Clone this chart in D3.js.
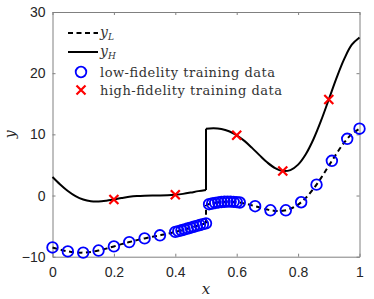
<!DOCTYPE html>
<html>
<head>
<meta charset="utf-8">
<script src="https://cdn.jsdelivr.net/npm/d3@7"></script>
<style>
  body { margin: 0; background: #fff; }
  svg { display: block; }
  .tick text { font-family: "Liberation Sans", Arial, sans-serif; font-size: 14px; fill: #262626; }
</style>
</head>
<body>
<div id="chart"></div>
<script>
// --- data ---
// high-fidelity curve y_H (jump at x = 0.5, listed twice)
const hiX = [0, 0.025, 0.05, 0.075, 0.1, 0.125, 0.15, 0.175, 0.2, 0.225, 0.25, 0.275, 0.3, 0.325, 0.35, 0.375, 0.4, 0.425, 0.45, 0.475, 0.5,
             0.5, 0.525, 0.55, 0.575, 0.6, 0.625, 0.65, 0.675, 0.7, 0.725, 0.75, 0.775, 0.8, 0.825, 0.85, 0.875, 0.9, 0.925, 0.95, 0.975, 1];
const hiY = [3.03, 1.81, 0.74, -0.10, -0.66, -0.94, -0.98, -0.85, -0.64, -0.41, -0.21, -0.08, -0.02, 0.0, 0.0, 0.03, 0.12, 0.27, 0.48, 0.72, 0.91,
             10.91, 10.99, 10.87, 10.50, 9.85, 8.93, 7.79, 6.56, 5.39, 4.48, 4.01, 4.16, 5.05, 6.75, 9.20, 12.27, 15.71, 19.19, 22.30, 24.65, 25.83];
// low-fidelity curve y_L
const loX = hiX;
const loY = [-8.49, -8.84, -9.13, -9.30, -9.33, -9.22, -8.99, -8.68, -8.32, -7.95, -7.61, -7.29, -7.01, -6.75, -6.50, -6.24, -5.94, -5.62, -5.26, -4.89, -4.55,
             -1.55, -1.26, -1.06, -1.00, -1.08, -1.29, -1.61, -1.97, -2.30, -2.51, -2.50, -2.17, -1.48, -0.38, 1.10, 2.89, 4.86, 6.84, 8.65, 10.07, 10.92];
const jumpAt = 20; // last index before the jump

// low-fidelity training data (circles)
const lfX = [0, 0.05, 0.1, 0.15, 0.2, 0.25, 0.3, 0.35,
             0.40, 0.41, 0.42, 0.43, 0.44, 0.45, 0.46, 0.47, 0.48, 0.49, 0.50,
             0.51, 0.52, 0.53, 0.54, 0.55, 0.56, 0.57, 0.58, 0.59, 0.60, 0.61,
             0.66, 0.71, 0.76, 0.81, 0.86, 0.91, 0.96, 1.0];
const lfY = [-8.49, -9.13, -9.33, -8.99, -8.32, -7.61, -7.01, -6.50,
             -5.94, -5.82, -5.68, -5.55, -5.40, -5.26, -5.11, -4.96, -4.82, -4.68, -4.55,
             -1.42, -1.31, -1.21, -1.13, -1.06, -1.02, -1.00, -1.00, -1.03, -1.08, -1.14,
             -1.75, -2.41, -2.41, -1.10, 1.78, 5.68, 9.27, 10.92];

// high-fidelity training data (crosses)
const hfX = [0.2, 0.4, 0.6, 0.75, 0.9];
const hfY = [-0.64, 0.12, 9.85, 4.01, 15.71];

const xTicks = [0, 0.2, 0.4, 0.6, 0.8, 1];
const yTicks = [-10, 0, 10, 20, 30];

// --- layout ---
const width = 374, height = 299;
const margin = { top: 12, right: 15, bottom: 42, left: 52.5 };
const innerW = 359.5 - margin.left;
const innerH = 256.7 - margin.top;

const svg = d3.select("#chart").append("svg")
    .attr("width", width).attr("height", height);
const g = svg.append("g").attr("transform", `translate(${margin.left},${margin.top})`);

const x = d3.scaleLinear().domain([0, 1]).range([0, innerW]);
const y = d3.scaleLinear().domain([-10, 30]).range([innerH, 0]);

// axes with inward ticks on all four sides
const axisColor = "#808080";
function styleAxis(sel) {
    sel.select(".domain").attr("stroke", axisColor).attr("stroke-width", 1);
    sel.selectAll(".tick line").attr("stroke", axisColor);
}
g.append("g").attr("transform", `translate(0,${innerH})`)
    .call(d3.axisBottom(x).tickValues(xTicks).tickFormat(d3.format("~g")).tickSizeInner(-3).tickSizeOuter(0).tickPadding(10))
    .call(styleAxis);
g.append("g")
    .call(d3.axisLeft(y).tickValues(yTicks).tickSizeInner(-3).tickSizeOuter(0).tickPadding(7))
    .call(styleAxis);
g.append("g")
    .call(d3.axisTop(x).tickValues(xTicks).tickSizeInner(-3).tickSizeOuter(0).tickFormat(""))
    .call(styleAxis);
g.append("g").attr("transform", `translate(${innerW},0)`)
    .call(d3.axisRight(y).tickValues(yTicks).tickSizeInner(-3).tickSizeOuter(0).tickFormat(""))
    .call(styleAxis);

// --- curves ---
const hi = hiX.map((d, i) => [d, hiY[i]]);
const lo = loX.map((d, i) => [d, loY[i]]);
const smooth = d3.line().x(d => x(d[0])).y(d => y(d[1])).curve(d3.curveCatmullRom.alpha(0.5));
const straight = d3.line().x(d => x(d[0])).y(d => y(d[1]));

function drawCurve(pts, dash) {
    const parts = [pts.slice(0, jumpAt + 1), pts.slice(jumpAt + 1)];
    parts.forEach(p => {
        g.append("path").attr("d", smooth(p))
            .attr("fill", "none").attr("stroke", "#000").attr("stroke-width", 2)
            .attr("stroke-dasharray", dash);
    });
    g.append("path").attr("d", straight([pts[jumpAt], pts[jumpAt + 1]]))
        .attr("fill", "none").attr("stroke", "#000").attr("stroke-width", 2)
        .attr("stroke-dasharray", dash);
}
drawCurve(lo, "5 3.5");
drawCurve(hi, null);

// --- markers ---
g.selectAll(".lf").data(lfX).enter().append("circle")
    .attr("class", "lf")
    .attr("cx", d => x(d))
    .attr("cy", (d, i) => y(lfY[i]))
    .attr("r", 5.3)
    .attr("fill", "none").attr("stroke", "#0000ff").attr("stroke-width", 1.8);

const cs = 4.5;
const crossPath = `M${-cs},${-cs}L${cs},${cs}M${-cs},${cs}L${cs},${-cs}`;
g.selectAll(".hf").data(hfX).enter().append("path")
    .attr("class", "hf")
    .attr("transform", (d, i) => `translate(${x(d)},${y(hfY[i])})`)
    .attr("d", crossPath)
    .attr("stroke", "#ff0000").attr("stroke-width", 2.2).attr("fill", "none");

// --- axis labels ---
svg.append("text")
    .attr("x", margin.left + innerW / 2).attr("y", 294)
    .attr("text-anchor", "middle")
    .attr("font-family", "DejaVu Serif, serif").attr("font-style", "italic")
    .attr("font-size", 15).attr("fill", "#262626")
    .text("x");
svg.append("text")
    .attr("transform", `translate(15,${margin.top + innerH / 2}) rotate(-90)`)
    .attr("text-anchor", "middle")
    .attr("font-family", "DejaVu Serif, serif").attr("font-style", "italic")
    .attr("font-size", 14).attr("fill", "#262626")
    .text("y");

// --- legend ---
const legendFont = "DejaVu Serif, serif";
const leg = svg.append("g").attr("transform", "translate(68,0)");
const rows = [33, 52, 72, 90];

leg.append("line").attr("x1", 0).attr("x2", 30).attr("y1", rows[0]).attr("y2", rows[0])
    .attr("stroke", "#000").attr("stroke-width", 2).attr("stroke-dasharray", "5 3.5");
leg.append("line").attr("x1", 0).attr("x2", 30).attr("y1", rows[1]).attr("y2", rows[1])
    .attr("stroke", "#000").attr("stroke-width", 2);
leg.append("circle").attr("cx", 13).attr("cy", rows[2]).attr("r", 5.3)
    .attr("fill", "none").attr("stroke", "#0000ff").attr("stroke-width", 1.8);
leg.append("path").attr("transform", `translate(13,${rows[3]})`).attr("d", crossPath)
    .attr("stroke", "#ff0000").attr("stroke-width", 2.2).attr("fill", "none");

function subLabel(row, sub) {
    const t = leg.append("text").attr("x", 32).attr("y", rows[row] + 4)
        .attr("font-family", legendFont).attr("font-style", "italic")
        .attr("font-size", 14).attr("fill", "#333");
    t.append("tspan").text("y");
    t.append("tspan").attr("font-size", 9).attr("dy", 3).text(sub);
}
subLabel(0, "L");
subLabel(1, "H");
const legendWidths = [175, 182];
["low-fidelity training data", "high-fidelity training data"].forEach((s, i) => {
    leg.append("text").attr("x", 32).attr("y", rows[i + 2] + 4.5)
        .attr("font-family", legendFont).attr("font-size", 13).attr("fill", "#333")
        .attr("textLength", legendWidths[i]).attr("lengthAdjust", "spacing")
        .text(s);
});
</script>
</body>
</html>
